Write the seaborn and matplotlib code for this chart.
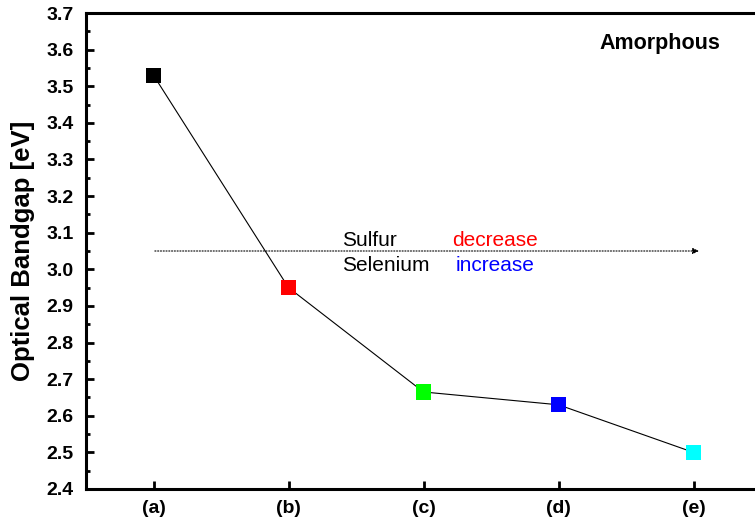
import matplotlib
matplotlib.use("Agg")
import matplotlib.pyplot as plt
from matplotlib.ticker import MultipleLocator, FormatStrFormatter
import seaborn as sns
import pandas as pd

samples = ["(a)", "(b)", "(c)", "(d)", "(e)"]
bandgap = [3.53, 2.95, 2.665, 2.63, 2.50]
marker_colors = ["#000000", "#ff0000", "#00ff00", "#0000ff", "#00ffff"]

sns.set_theme(style="ticks", rc={"text.color": "black", "axes.labelcolor": "black",
                                 "xtick.color": "black", "ytick.color": "black",
                                 "axes.edgecolor": "black"})
plt.rcParams["font.family"] = ["Liberation Sans", "DejaVu Sans"]

df = pd.DataFrame({"pos": range(len(samples)), "sample": samples, "Eg": bandgap})

fig = plt.figure(figsize=(7.55, 5.26), dpi=100)
ax = fig.add_axes([86 / 755, 37 / 526, 675 / 755, 476 / 526])

sns.lineplot(data=df, x="pos", y="Eg", color="black", linewidth=0.8, ax=ax, zorder=2)
sns.scatterplot(data=df, x="pos", y="Eg", hue="sample", palette=marker_colors,
                marker="s", s=120, edgecolor="none", legend=False, ax=ax, zorder=3)

# composition trend arrow
ax.annotate("", xy=(4.04, 3.05), xytext=(0.01, 3.05),
            arrowprops=dict(arrowstyle="-|>", linestyle=(0, (1, 1.5)), lw=0.8,
                            color="black", mutation_scale=9, shrinkA=0, shrinkB=0))
ax.text(1.40, 3.053, "Sulfur", fontsize=15, color="black", va="bottom", ha="left")
ax.text(2.21, 3.053, "decrease", fontsize=15, color="#ff0000", va="bottom", ha="left")
ax.text(1.40, 3.037, "Selenium", fontsize=15, color="black", va="top", ha="left")
ax.text(2.24, 3.037, "increase", fontsize=15, color="#0000ff", va="top", ha="left")

ax.text(0.761, 0.935, "Amorphous", transform=ax.transAxes, fontsize=15.5,
        fontweight="bold", ha="left", va="center")

ax.set_xlim(-0.5, 4.5)
ax.set_ylim(2.4, 3.7)
ax.set_xticks(range(len(samples)))
ax.set_xticklabels(samples)
ax.yaxis.set_major_locator(MultipleLocator(0.1))
ax.yaxis.set_minor_locator(MultipleLocator(0.05))
ax.yaxis.set_major_formatter(FormatStrFormatter("%.1f"))

ax.set_xlabel("")
ax.set_ylabel("Optical Bandgap [eV]", fontsize=18.5, fontweight="bold", labelpad=8)

for lab in ax.get_xticklabels() + ax.get_yticklabels():
    lab.set_fontweight("bold")
    lab.set_fontsize(14)

ax.tick_params(axis="both", which="major", direction="in", length=6, width=2, pad=8)
ax.tick_params(axis="y", which="minor", direction="in", length=3, width=2)
ax.tick_params(axis="y", pad=9)
for sp in ax.spines.values():
    sp.set_linewidth(2.2)
    sp.set_visible(True)

fig.savefig("out.png", dpi=100)
